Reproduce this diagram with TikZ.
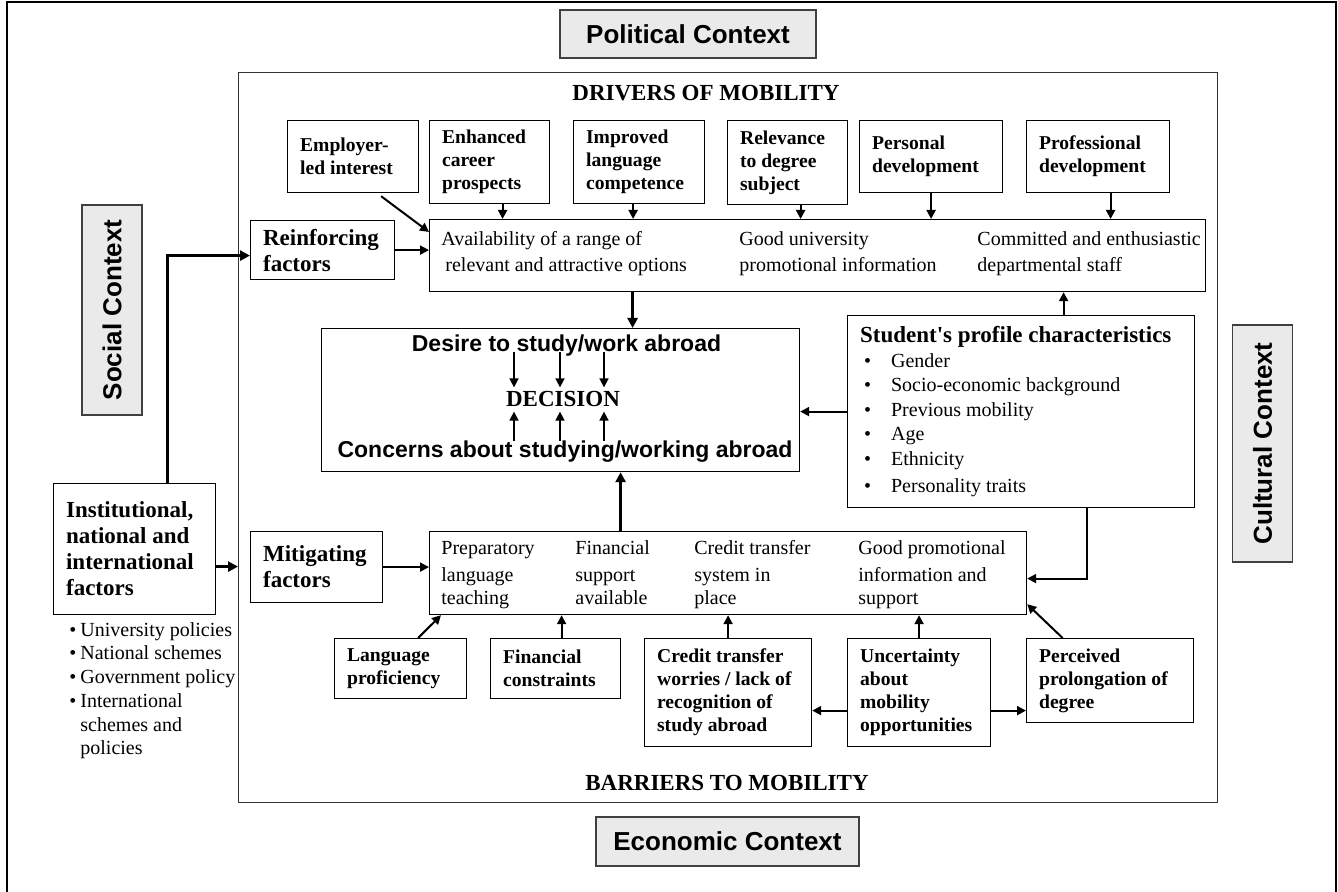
\documentclass[tikz,border=0pt]{standalone}
\usepackage{fontspec}
\setmainfont{Liberation Serif}
\setsansfont{Liberation Sans}
\usetikzlibrary{arrows.meta}
\definecolor{ctxgrey}{HTML}{EAEAEA}
\newcommand{\bul}{\makebox[15.5pt][l]{\hspace{2pt}\textbullet}}
\newcommand{\lbul}{\makebox[5.5pt][l]{\textbullet}}

\begin{document}
\begin{tikzpicture}[x=0.5pt,y=-0.5pt,
    box/.style={draw, line width=0.6pt, anchor=north west, align=flush left,
      inner xsep=6.25pt, inner ysep=2pt, font=\fontsize{9.8}{11.5}\selectfont\bfseries},
    bigbox/.style={box, font=\fontsize{11.5}{13}\selectfont\bfseries},
    opttext/.style={anchor=west, align=left, inner sep=0pt, font=\fontsize{10}{13}\selectfont},
    heading/.style={inner sep=0pt, font=\fontsize{11.5}{13}\selectfont\bfseries},
    sanshead/.style={inner sep=0pt, anchor=base, font=\fontsize{11.5}{13}\selectfont\sffamily\bfseries},
    context/.style={draw=black!75, fill=ctxgrey, line width=0.6pt, inner sep=0pt,
      font=\fontsize{13}{15}\selectfont\sffamily\bfseries},
    arr/.style={-{Triangle[length=4.5pt,width=4.5pt]}, line width=1pt},
    arrthick/.style={-{Triangle[length=5pt,width=5pt]}, line width=1.5pt}]
  \useasboundingbox (0,0) rectangle (1338,892);
  \draw[line width=1pt] (7,900) -- (7,2) -- (1336,2) -- (1336,900);

  % contexts
  \node[context, minimum width=128pt, minimum height=24pt] (political) at (688,34) {Political Context};
  \node[context, minimum width=131.5pt, minimum height=24.5pt] (economic) at (727.5,841.5) {Economic Context};
  \node[context, rotate=90, minimum width=105pt, minimum height=30pt] (social) at (112,310) {Social Context};
  \node[context, rotate=90, minimum width=118.5pt, minimum height=30pt] (cultural) at (1262.5,443.5) {Cultural Context};

  % mobility frame
  \node[draw=black!80, line width=0.7pt, anchor=north west, inner sep=0pt,
    minimum width=489.5pt, minimum height=365pt] (mobility) at (238,72) {};
  \node[heading] (drivers) at (706,93) {DRIVERS OF MOBILITY};
  \node[heading] (barriers) at (727,783) {BARRIERS TO MOBILITY};

  % drivers
  \node[box, text width=53pt, minimum height=36pt] (employer) at (287,120) {Employer-\\led interest};
  \node[box, text width=47.5pt, minimum height=41.5pt] (enhanced) at (429,120) {Enhanced\\career\\prospects};
  \node[box, text width=53pt, minimum height=41.5pt] (improved) at (573,120) {Improved\\language\\competence};
  \node[box, text width=47.5pt, minimum height=42pt] (relevance) at (727,120) {Relevance\\to degree\\subject};
  \node[box, text width=59pt, minimum height=36pt] (personal) at (859,120) {Personal\\development};
  \node[box, text width=59pt, minimum height=36pt] (professional) at (1026,120) {Professional\\development};

  \node[bigbox, text width=59.5pt, minimum height=29.5pt] (reinforcing) at (250,220) {Reinforcing\\factors};
  \node[box, minimum width=388pt, minimum height=36pt] (optD) at (429,219) {};
  \node[opttext] (optDa) at (441,254) {Availability of a range of\\\hspace{2pt}relevant and attractive options};
  \node[opttext] (optDb) at (739,254) {Good university\\promotional information};
  \node[opttext] (optDc) at (977,254) {Committed and enthusiastic\\departmental staff};

  % decision
  \node[box, minimum width=239pt, minimum height=71.5pt] (decide) at (321,328) {};
  \node[sanshead] (desire) at (566.5,352) {Desire to study/work abroad};
  \node[heading, inner ysep=2pt, anchor=base] (decision) at (563,407) {DECISION};
  \node[sanshead] (concerns) at (565,458) {Concerns about studying/working abroad};

  \node[box, font=\fontsize{10}{12.25}\selectfont, text width=161pt, minimum height=96pt] (student) at (847,315)
    {{\fontsize{11.5}{12.25}\selectfont\bfseries Student\textquotesingle s profile characteristics}\\
     \bul Gender\\ \bul Socio-economic background\\ \bul Previous mobility\\
     \bul Age\\ \bul Ethnicity\\[1.5pt] \bul Personality traits};

  % barriers
  \node[bigbox, text width=53.5pt, minimum height=35.5pt] (mitigating) at (250,531) {Mitigating\\factors};
  \node[box, minimum width=298.5pt, minimum height=41.5pt] (optB) at (429,531) {};
  \begin{scope}[every node/.style={opttext, anchor=north west, font=\fontsize{10}{11.5}\selectfont}]
    \node (optBa) at (441,538) {\strut Preparatory\\[2pt]language\\teaching};
    \node (optBb) at (575,538) {\strut Financial\\[2pt]support\\available};
    \node (optBc) at (694,538) {\strut Credit transfer\\[2pt]system in\\place};
    \node (optBd) at (858,538) {\strut Good promotional\\[2pt]information and\\support};
  \end{scope}

  \node[box, text width=53.5pt, minimum height=30pt] (language) at (334,638) {Language\\proficiency};
  \node[box, text width=52.5pt, minimum height=30pt] (financial) at (490,638) {Financial\\constraints};
  \node[box, text width=71pt, minimum height=54pt] (credit) at (644,638) {Credit transfer\\worries / lack of\\recognition of\\study abroad};
  \node[box, text width=59pt, minimum height=54pt] (uncertainty) at (847,638) {Uncertainty\\about\\mobility\\opportunities};
  \node[box, text width=71pt, minimum height=42pt] (perceived) at (1026,638) {Perceived\\prolongation of\\degree};

  % institutional
  \node[bigbox, text width=68.5pt, minimum height=65.5pt] (inst) at (53,483) {Institutional,\\national and\\international\\factors};
  \node[opttext, anchor=north west, font=\fontsize{10}{11.85}\selectfont] (instlist) at (69,622)
    {\lbul University policies\\ \lbul National schemes\\ \lbul Government policy\\
     \lbul International\\ \hspace{5.5pt}schemes and\\ \hspace{5.5pt}policies};

  % connectors, drivers side
  \draw[arr] ([xshift=14pt,yshift=-1.5pt]employer.south) -- ([yshift=-6.5pt]optD.north west);
  \foreach \n/\dx in {enhanced/6.5, improved/-3, relevance/6.5, personal/0, professional/6.25}
    \draw[arr] ([xshift=\dx pt]\n.south) -- ([xshift=\dx pt]\n.south |- optD.north);
  \draw[arr] (reinforcing.east) -- (reinforcing.east -| optD.west);
  \draw[arrthick] ([xshift=36pt]decide.north |- optD.south) -- ([xshift=36pt]decide.north);
  \draw[arr] ([xshift=21.25pt]student.north) -- ([xshift=21.25pt]student.north |- optD.south);
  \draw[arr] (student.west) -- (student.west -| decide.east);
  \draw[arr] ([xshift=32.75pt]student.south) |- ([yshift=-2.75pt]optB.east);

  % inside the decision box
  \foreach \dx in {-26.25,-3.25,18.75} {
    \draw[arr, line width=0.8pt] ([xshift=\dx pt]desire.base) -- ([xshift=\dx pt]desire.base |- decision.north);
    \draw[arr, line width=0.8pt] ([xshift=\dx pt]desire.base |- concerns.north) -- ([xshift=\dx pt]desire.base |- decision.south);
  }

  % connectors, barriers side
  \draw[arr] (mitigating.east) -- (mitigating.east -| optB.west);
  \draw[arrthick] ([xshift=30pt]decide.south |- optB.north) -- ([xshift=30pt]decide.south);
  \draw[arr] ([xshift=8.75pt]language.north) -- ([xshift=6pt]optB.south west);
  \draw[arr] ([xshift=3pt]financial.north) -- ([xshift=3pt]financial.north |- optB.south);
  \draw[arr] (credit.north) -- (credit.north |- optB.south);
  \draw[arr] (uncertainty.north) -- (uncertainty.north |- optB.south);
  \draw[arr] ([xshift=-23.75pt]perceived.north) -- ([yshift=5.5pt]optB.south east);
  \draw[arr] ([yshift=-9pt]uncertainty.west) -- ([yshift=-9pt]uncertainty.west -| credit.east);
  \draw[arr] ([yshift=-9pt]uncertainty.east) -- ([yshift=-9pt]uncertainty.east -| perceived.west);

  % institutional links
  \draw[arrthick] ([xshift=16.5pt]inst.north) |- ([yshift=-2.75pt]reinforcing.west);
  \draw[arrthick] ([yshift=-8.75pt]inst.east) -- ([yshift=-8.75pt]inst.east -| mobility.west);
\end{tikzpicture}
\end{document}
